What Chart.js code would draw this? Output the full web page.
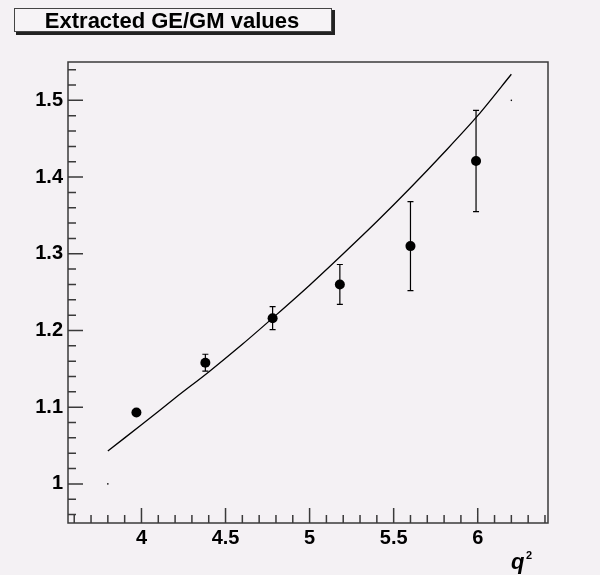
<!DOCTYPE html>
<html>
<head>
<meta charset="utf-8">
<script src="https://cdn.jsdelivr.net/npm/chart.js@4/dist/chart.umd.min.js"></script>
<style>
  body { margin: 0; background: #f4f1f4; }
  #wrap { position: relative; width: 600px; height: 575px; }
</style>
</head>
<body>
<div id="wrap"><canvas id="myChart"></canvas></div>
<script>
// measured points (q^2, GE/GM, error)
let q2Values = [3.97, 4.38, 4.78, 5.18, 5.60, 5.99];
let ratioValues = [1.093, 1.158, 1.216, 1.260, 1.310, 1.421];
let ratioErrors = [0, 0.011, 0.015, 0.026, 0.058, 0.066];

// curve
let curveX = [3.8, 4.0, 4.2, 4.4, 4.6, 4.8, 5.0, 5.2, 5.4, 5.6, 5.8, 6.0, 6.2];
let curveY = [1.043, 1.077, 1.112, 1.146, 1.182, 1.220, 1.259, 1.300, 1.342, 1.386, 1.432, 1.480, 1.534];

// two stray dots at the curve ends
let strayX = [3.8, 6.2];
let strayY = [1.0, 1.5];

let xTicks = [4, 4.5, 5, 5.5, 6];
let yTicks = [1, 1.1, 1.2, 1.3, 1.4, 1.5];

let titleText = 'Extracted GE/GM values';
let frameColor = '#3a3a3a';

function toPoints(xs, ys) {
  let arr = [];
  for (let i = 0; i < xs.length; i++) {
    arr.push({x: xs[i], y: ys[i]});
  }
  return arr;
}

// ROOT style frame with ticks pointing inwards
let framePlugin = {
  id: 'frame',
  afterDraw(chart) {
    let ctx = chart.ctx;
    let a = chart.chartArea;
    let xs = chart.scales.x, ys = chart.scales.y;
    ctx.save();
    ctx.strokeStyle = frameColor;
    ctx.lineWidth = 1.5;
    ctx.strokeRect(a.left, a.top, a.right - a.left, a.bottom - a.top);
    ctx.beginPath();
    // x ticks, minor every 0.1
    for (let i = Math.ceil(xs.min * 10); i <= xs.max * 10; i++) {
      let px = xs.getPixelForValue(i / 10);
      let len = (i % 5 === 0) ? 15 : 8;
      ctx.moveTo(px, a.bottom);
      ctx.lineTo(px, a.bottom - len);
    }
    // y ticks, minor every 0.02
    for (let i = Math.ceil(ys.min * 50); i <= ys.max * 50; i++) {
      let py = ys.getPixelForValue(i / 50);
      let len = (i % 5 === 0) ? 15 : 8;
      ctx.moveTo(a.left, py);
      ctx.lineTo(a.left + len, py);
    }
    ctx.stroke();

    // title box with shadow
    ctx.fillStyle = '#222';
    ctx.fillRect(16, 10, 319, 25);
    ctx.fillStyle = '#f6f3f6';
    ctx.fillRect(14, 8, 318, 24);
    ctx.strokeStyle = '#444';
    ctx.lineWidth = 1;
    ctx.strokeRect(14.5, 8.5, 317, 23);
    ctx.fillStyle = '#000';
    ctx.font = 'bold 22px "Liberation Sans", Arial, sans-serif';
    ctx.textAlign = 'center';
    ctx.textBaseline = 'alphabetic';
    ctx.fillText(titleText, 172, 28);

    // axis title q^2
    ctx.textAlign = 'left';
    ctx.font = 'italic bold 22px "Liberation Sans", Arial, sans-serif';
    ctx.fillText('q', 511, 569);
    ctx.font = 'bold 11px "Liberation Sans", Arial, sans-serif';
    ctx.fillText('2', 526, 559);
    ctx.restore();
  }
};

// vertical error bars with small caps
let errorPlugin = {
  id: 'errbars',
  beforeDatasetsDraw(chart) {
    let ctx = chart.ctx;
    let xs = chart.scales.x, ys = chart.scales.y;
    ctx.save();
    ctx.strokeStyle = '#000';
    ctx.lineWidth = 1.2;
    ctx.beginPath();
    for (let i = 0; i < q2Values.length; i++) {
      if (!ratioErrors[i]) continue;
      let px = xs.getPixelForValue(q2Values[i]);
      let top = ys.getPixelForValue(ratioValues[i] + ratioErrors[i]);
      let bot = ys.getPixelForValue(ratioValues[i] - ratioErrors[i]);
      ctx.moveTo(px, top);
      ctx.lineTo(px, bot);
      ctx.moveTo(px - 3, top);
      ctx.lineTo(px + 3, top);
      ctx.moveTo(px - 3, bot);
      ctx.lineTo(px + 3, bot);
    }
    ctx.stroke();
    ctx.restore();
  }
};

function runGraph() {
  let ctx = document.getElementById('myChart').getContext('2d');
  let tickFont = {family: '"Liberation Sans", Arial, sans-serif', size: 20, weight: 'bold'};
  let chart = new Chart(ctx, {
    type: 'scatter',
    data: {
      datasets: [{
        label: 'fit',
        data: toPoints(curveX, curveY),
        showLine: true,
        borderColor: '#000',
        borderWidth: 1.3,
        pointRadius: 0,
        tension: 0.3
      }, {
        label: 'GE/GM',
        data: toPoints(q2Values, ratioValues),
        backgroundColor: '#000',
        borderColor: '#000',
        pointRadius: 5,
        borderWidth: 0
      }, {
        label: 'ends',
        data: toPoints(strayX, strayY),
        backgroundColor: '#000',
        pointRadius: 0.8,
        borderWidth: 0
      }]
    },
    options: {
      responsive: true,
      maintainAspectRatio: false,
      animation: false,
      layout: {padding: {top: 62, right: 52, bottom: 0, left: 0}},
      plugins: {legend: {display: false}, tooltip: {enabled: false}},
      scales: {
        x: {
          type: 'linear',
          min: 3.563,
          max: 6.418,
          grid: {display: false, drawTicks: false},
          border: {display: false},
          afterBuildTicks: s => { s.ticks = xTicks.map(v => ({value: v})); },
          afterFit: s => { s.height = 52; },
          ticks: {color: '#000', font: tickFont, padding: 3, maxRotation: 0, callback: v => String(v)}
        },
        y: {
          type: 'linear',
          min: 0.949,
          max: 1.55,
          grid: {display: false, drawTicks: false},
          border: {display: false},
          afterBuildTicks: s => { s.ticks = yTicks.map(v => ({value: v})); },
          afterFit: s => { s.width = 68; },
          ticks: {color: '#000', font: tickFont, padding: 5, callback: v => String(v)}
        }
      }
    },
    plugins: [errorPlugin, framePlugin]
  });
  return chart;
}

let myChart = runGraph();
</script>
</body>
</html>
